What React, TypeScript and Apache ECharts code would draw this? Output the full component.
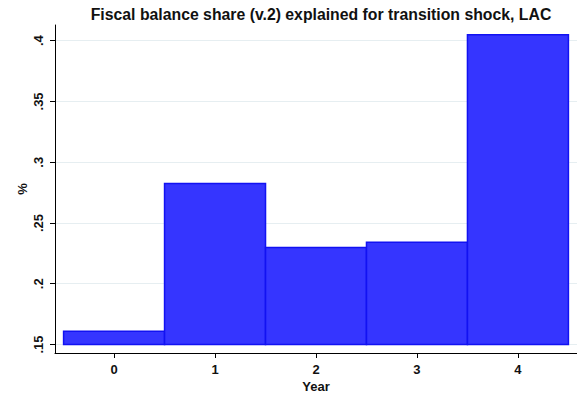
import React, { useEffect, useRef } from "react";
import * as echarts from "echarts";

const years = [0, 1, 2, 3, 4];
const shares = [0.161, 0.2825, 0.2298, 0.2342, 0.4049];
const yTicks = [0.15, 0.2, 0.25, 0.3, 0.35, 0.4];
const yTickLabels = [".15", ".2", ".25", ".3", ".35", ".4"];
const barBase = 0.15;
const titleText = "Fiscal balance share (v.2) explained for transition shock, LAC";

export default function App() {
  const ref = useRef<HTMLDivElement>(null);
  useEffect(() => {
    if (!ref.current) return;
    const chart = echarts.init(ref.current, null, { renderer: "svg" });
    const fontFamily = "'Liberation Sans', Arial, sans-serif";
    chart.setOption({
      animation: false,
      backgroundColor: "#ffffff",
      title: {
        text: titleText,
        left: 316,
        textAlign: "center",
        top: 1,
        textStyle: { fontFamily, fontSize: 15.8, fontWeight: "bold", color: "#111" },
      },
      grid: { left: 55, right: 0, top: 25, bottom: 44, containLabel: false },
      xAxis: {
        type: "value",
        min: -0.585,
        max: 4.585,
        name: "Year",
        nameLocation: "middle",
        nameGap: 27,
        nameMoveOverlap: false,
        nameTextStyle: { fontFamily, fontSize: 13, fontWeight: "bold", color: "#111" },
        axisLine: { show: true, onZero: false, lineStyle: { color: "#000", width: 1 } },
        axisTick: { show: true, length: 5, customValues: years, lineStyle: { color: "#000" } },
        axisLabel: {
          customValues: years,
          margin: 10,
          fontFamily,
          fontSize: 13,
          fontWeight: "bold",
          color: "#111",
          formatter: (v: number) => String(v),
        },
        splitLine: { show: false },
      },
      yAxis: {
        type: "value",
        min: 0.143,
        max: 0.4129,
        name: "%",
        nameLocation: "middle",
        nameRotate: 90,
        nameGap: 26,
        nameMoveOverlap: false,
        nameTextStyle: { fontFamily, fontSize: 13, fontWeight: "bold", color: "#111" },
        axisLine: { show: true, onZero: false, lineStyle: { color: "#000", width: 1 } },
        axisTick: { show: true, length: 5, customValues: yTicks, lineStyle: { color: "#000" } },
        axisLabel: {
          customValues: yTicks,
          rotate: 90,
          margin: 10,
          fontFamily,
          fontSize: 13,
          fontWeight: "bold",
          color: "#111",
          formatter: (v: number) => {
            const i = yTicks.findIndex((t) => Math.abs(t - v) < 1e-6);
            return i >= 0 ? yTickLabels[i] : "";
          },
        },
        splitLine: { show: false },
      },
      series: [
        {
          type: "custom",
          data: years.map((y, i) => [y, shares[i]]),
          renderItem: (params: any, api: any) => {
            const x = api.value(0);
            const v = api.value(1);
            const p0 = api.coord([x - 0.5, v]);
            const p1 = api.coord([x + 0.5, barBase]);
            return {
              type: "rect",
              shape: { x: p0[0], y: p0[1], width: p1[0] - p0[0], height: p1[1] - p0[1] },
              style: { fill: "#3535ff", stroke: "#1212f2", lineWidth: 1.5 },
            };
          },
          markLine: {
            silent: true,
            symbol: "none",
            label: { show: false },
            lineStyle: { color: "#e6eef1", width: 1, type: "solid" },
            data: yTicks.map((t) => ({ yAxis: t })),
            z: -1,
          },
          z: 2,
        },
      ],
    });
    return () => chart.dispose();
  }, []);
  return (
    <div
      ref={ref}
      style={{ position: "fixed", left: 0, top: 0, width: 577, height: 398 }}
    />
  );
}
